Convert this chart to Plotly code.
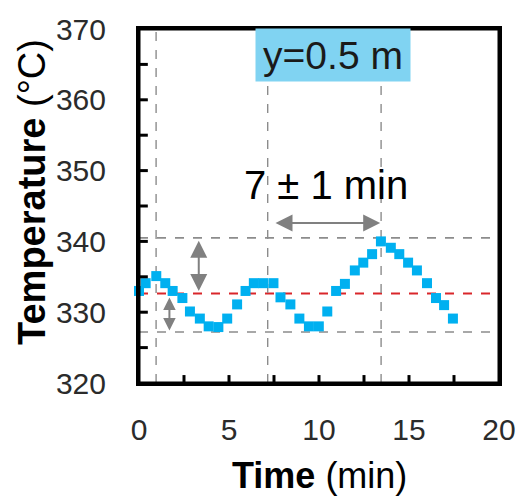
import plotly.graph_objects as go

# Data
time_min = [0.0, 0.37, 0.96, 1.46, 1.87, 2.41, 2.83, 3.38, 3.87, 4.41, 4.9, 5.45,
            5.92, 6.38, 6.9, 7.47, 7.86, 8.41, 8.91, 9.44, 9.99, 10.46, 10.95, 11.44,
            11.99, 12.46, 12.95, 13.44, 13.99, 14.46, 14.95, 15.44, 16.0, 16.5, 16.95, 17.44]
temp_c = [333.0, 334.1, 335.1, 334.1, 333.0, 332.0, 330.1, 329.1, 328.0, 327.9, 329.1, 331.1,
          333.0, 334.1, 334.1, 334.1, 332.1, 331.1, 329.1, 328.0, 328.0, 330.1, 333.0, 334.0,
          335.9, 337.0, 338.2, 340.0, 339.1, 338.2, 337.0, 335.9, 334.1, 332.0, 331.0, 329.1]

mean_temp = 332.65
upper_temp = 340.5
lower_temp = 327.2
vlines_t = [0.95, 7.15, 13.45]

x_ticks = [0, 5, 10, 15, 20]
y_ticks = [320, 330, 340, 350, 360, 370]
x_minor_ticks = [2.5, 5, 7.5, 10, 12.5, 15, 17.5]
y_minor_ticks = [325, 330, 335, 340, 345, 350, 355, 360, 365]

FONT = "Liberation Sans"
PLOT_W, PLOT_H = 367, 357  # plot area size in px (for tick-mark lengths)

fig = go.Figure()
fig.add_trace(go.Scatter(
    x=time_min, y=temp_c, mode="markers",
    marker=dict(symbol="square", size=10, color="#00B0F0"),
    showlegend=False, cliponaxis=False,
))

# horizontal reference lines
for yv, col in [(upper_temp, "#8c8c8c"), (lower_temp, "#8c8c8c"), (mean_temp, "#D9262B")]:
    fig.add_shape(type="line", xref="paper", x0=0, x1=1, yref="y", y0=yv, y1=yv,
                  line=dict(color=col, width=1.6 if col != "#D9262B" else 2, dash="dash"),
                  layer="below")
# vertical reference lines
for xv in vlines_t:
    fig.add_shape(type="line", xref="x", x0=xv, x1=xv, yref="paper", y0=0, y1=1,
                  line=dict(color="#8c8c8c", width=1.4, dash="dash"), layer="below")

# inside tick marks and frame
for xv in x_minor_ticks:
    fig.add_shape(type="line", xref="x", x0=xv, x1=xv, yref="paper", y0=0, y1=8 / PLOT_H,
                  line=dict(color="black", width=3), layer="above")
for yv in y_minor_ticks:
    fig.add_shape(type="line", xref="paper", x0=0, x1=9 / PLOT_W, yref="y", y0=yv, y1=yv,
                  line=dict(color="black", width=3), layer="above")
fig.add_shape(type="rect", xref="paper", yref="paper", x0=0, x1=1, y0=0, y1=1,
              line=dict(color="black", width=3), fillcolor="rgba(0,0,0,0)", layer="above")

# double-headed arrows
arrows = [
    (7.5, 342.6, 13.4, 342.6, 1.7),
    (3.32, 340.3, 3.32, 333.0, 1.7),
    (1.69, 332.3, 1.69, 327.4, 1.25),
]
for x0, y0, x1, y1, sz in arrows:
    fig.add_annotation(x=x1, y=y1, ax=x0, ay=y0, xref="x", yref="y", axref="x", ayref="y",
                       text="", showarrow=True, arrowhead=2, arrowside="end+start",
                       arrowsize=sz, arrowwidth=2, arrowcolor="#808080", standoff=0,
                       startstandoff=0)

fig.add_annotation(x=10.75, y=366.3, xref="x", yref="y", text="y=0.5 m",
                   showarrow=False, font=dict(family=FONT, size=39, color="#1a1a1a"),
                   bgcolor="#80D3F2", width=154, height=52, borderpad=0)
fig.add_annotation(x=10.4, y=348.0, xref="x", yref="y", text="7 ± 1 min",
                   showarrow=False, font=dict(family=FONT, size=40, color="#000000"))

# axis titles
fig.add_annotation(xref="paper", yref="paper", x=-0.297, y=0.54, text="<b>Temperature</b> (°C)",
                   xanchor="center", yanchor="middle",
                   textangle=-90, showarrow=False, font=dict(family=FONT, size=38, color="#000"))
fig.add_annotation(xref="paper", yref="paper", x=0.5, y=-0.262, text="<b>Time</b> (min)",
                   xanchor="center", yanchor="middle",
                   showarrow=False, font=dict(family=FONT, size=36, color="#000"))

fig.update_layout(
    width=528, height=503,
    margin=dict(l=139, r=22, t=26, b=120),
    paper_bgcolor="white", plot_bgcolor="white",
    font=dict(family=FONT, color="#333333"),
)
# axes: labels pushed out with invisible outside ticks
fig.update_xaxes(
    range=[0, 20], tickvals=x_ticks, ticks="outside", ticklen=18, tickcolor="rgba(0,0,0,0)",
    showline=True, linecolor="black", linewidth=3, mirror=True, showgrid=False, zeroline=False,
    tickfont=dict(family=FONT, size=30, color="#2b2b2b"),
)
fig.update_yaxes(
    range=[320, 370], tickvals=y_ticks, ticks="outside", ticklen=24, tickcolor="rgba(0,0,0,0)",
    showline=True, linecolor="black", linewidth=3, mirror=True, showgrid=False, zeroline=False,
    tickfont=dict(family=FONT, size=30, color="#2b2b2b"),
)

fig.write_html("out.html")
